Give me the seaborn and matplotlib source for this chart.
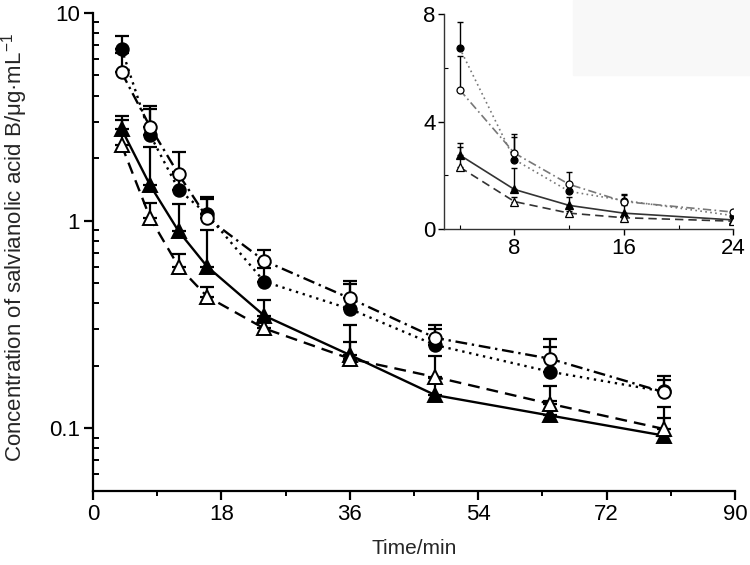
import numpy as np
import pandas as pd
import matplotlib
matplotlib.use("Agg")
import matplotlib.pyplot as plt
import matplotlib.ticker as mticker
import seaborn as sns

sns.set_theme(style="ticks")
plt.rcParams['font.family'] = ['Liberation Sans', 'DejaVu Sans']
plt.rcParams['mathtext.fontset'] = 'custom'
plt.rcParams['mathtext.rm'] = 'Liberation Sans'
plt.rcParams['mathtext.it'] = 'Liberation Sans'

# ---- data ----
time_min = [4, 8, 12, 16, 24, 36, 48, 64, 80]
filled_circle = [6.73, 2.59, 1.41, 1.07, 0.508, 0.375, 0.251, 0.187, 0.150]
filled_circle_sd = [0.98, 0.96, 0.30, 0.20, 0.08, 0.12, 0.05, 0.06, 0.02]
open_circle = [5.18, 2.83, 1.67, 1.03, 0.64, 0.422, 0.272, 0.216, 0.149]
open_circle_sd = [1.26, 0.60, 0.47, 0.27, 0.084, 0.09, 0.04, 0.054, 0.03]
filled_triangle = [2.76, 1.48, 0.888, 0.60, 0.348, 0.225, 0.144, 0.115, 0.092]
filled_triangle_sd = [0.44, 0.79, 0.31, 0.305, 0.067, 0.09, 0.03, 0.02, 0.02]
open_triangle = [2.31, 1.03, 0.60, 0.43, 0.302, 0.216, 0.176, 0.131, 0.099]
open_triangle_sd = [0.75, 0.18, 0.09, 0.05, 0.03, 0.045, 0.047, 0.028, 0.027]

x_ticks = [0, 18, 36, 54, 72, 90]
y_ticks = [0.1, 1, 10]
y_tick_labels = ['0.1', '1', '10']
inset_x_ticks = [8, 16, 24]
inset_y_ticks = [0, 4, 8]

series = [
    dict(y=filled_circle, sd=filled_circle_sd, marker='o', fc='black', ls=(0, (1, 2)), lc='black', ilc='#777777'),
    dict(y=open_circle, sd=open_circle_sd, marker='o', fc='white', ls=(0, (5, 2, 1, 2)), lc='black', ilc='#777777'),
    dict(y=filled_triangle, sd=filled_triangle_sd, marker='^', fc='black', ls='-', lc='black', ilc='#333333'),
    dict(y=open_triangle, sd=open_triangle_sd, marker='^', fc='white', ls=(0, (5, 3)), lc='black', ilc='#333333'),
]

fig = plt.figure(figsize=(7.5, 5.65), dpi=100)
# faint scan artefact rectangle at top right
fig.patches.append(plt.Rectangle((573/750, 1-75/565), 177/750, 75/565, transform=fig.transFigure,
                                 color='#f8f8f8', zorder=0))

ax = fig.add_axes([93/750, 1-490.5/565, (735-93)/750, (490.5-13)/565])
ax.patch.set_alpha(0)

for s in series:
    df = pd.DataFrame({'t': time_min, 'c': s['y']})
    ax.errorbar(time_min, s['y'], yerr=[np.zeros(len(time_min)), s['sd']], fmt='none',
                ecolor='black', elinewidth=1.6, capsize=5, capthick=1.6, zorder=2)
    sns.lineplot(data=df, x='t', y='c', ax=ax, color=s['lc'], linestyle=s['ls'], linewidth=1.7,
                 marker=s['marker'], markersize=10 if s['marker'] == '^' else 9,
                 markerfacecolor=s['fc'], markeredgecolor='black', markeredgewidth=1.4,
                 zorder=3)

ax.set_yscale('log')
ax.set_xlim(0, 90)
ax.set_ylim(0.05, 10)
ax.set_xticks(x_ticks)
ax.xaxis.set_minor_locator(mticker.MultipleLocator(9))
ax.set_yticks(y_ticks, labels=y_tick_labels)
ax.yaxis.set_minor_locator(mticker.LogLocator(base=10, subs=np.arange(2, 10)))
ax.yaxis.set_minor_formatter(mticker.NullFormatter())
for sp in ['top', 'right']:
    ax.spines[sp].set_visible(False)
for sp in ['left', 'bottom']:
    ax.spines[sp].set_linewidth(1.6)
    ax.spines[sp].set_color('black')
ax.tick_params(which='major', direction='out', length=6.5, width=1.6, labelsize=16, colors='black', pad=3)
ax.tick_params(axis='x', which='minor', direction='out', length=3.5, width=1.4, colors='black')
ax.tick_params(axis='y', which='minor', direction='in', length=4.5, width=1.4, colors='black')
ax.set_xlabel('Time/min', fontsize=15, labelpad=10)
ylab = ax.set_ylabel('Concentration of salvianolic acid B/μg·mL$^{-1}$', fontsize=16,
                     ha='center', va='center')
ylab.set_rotation_mode('default')
ax.yaxis.set_label_coords(-0.1225, 0.509)

# ---- inset ----
axi = fig.add_axes([444/750, 1-229.3/565, (733.3-444)/750, (229.3-14)/565])
axi.patch.set_alpha(0)
n_in = 5
for s in series:
    df = pd.DataFrame({'t': time_min[:n_in], 'c': s['y'][:n_in]})
    axi.errorbar(time_min[:n_in], s['y'][:n_in], yerr=[np.zeros(n_in), s['sd'][:n_in]], fmt='none',
                 ecolor='black', elinewidth=1.0, capsize=2, capthick=1.0, zorder=2)
    sns.lineplot(data=df, x='t', y='c', ax=axi, color=s['ilc'], linestyle=s['ls'], linewidth=1.2,
                 marker=s['marker'], markersize=5.5 if s['marker'] == '^' else 5,
                 markerfacecolor=s['fc'], markeredgecolor='black', markeredgewidth=0.9,
                 zorder=3)
axi.set_xlim(2.85, 24)
axi.set_ylim(0, 8)
axi.set_xticks(inset_x_ticks)
axi.set_yticks(inset_y_ticks)
axi.xaxis.set_minor_locator(mticker.FixedLocator([4, 12, 20]))
axi.yaxis.set_minor_locator(mticker.FixedLocator([2, 6]))
for sp in ['top', 'right']:
    axi.spines[sp].set_visible(False)
for sp in ['left', 'bottom']:
    axi.spines[sp].set_linewidth(1.0)
    axi.spines[sp].set_color('#333333')
axi.tick_params(which='major', direction='out', length=4, width=1.0, labelsize=16, colors='black', pad=2)
axi.tick_params(which='minor', direction='in', length=3, width=0.8, colors='black')
axi.set_xlabel('')
axi.set_ylabel('')

fig.savefig('out.png', dpi=100)
